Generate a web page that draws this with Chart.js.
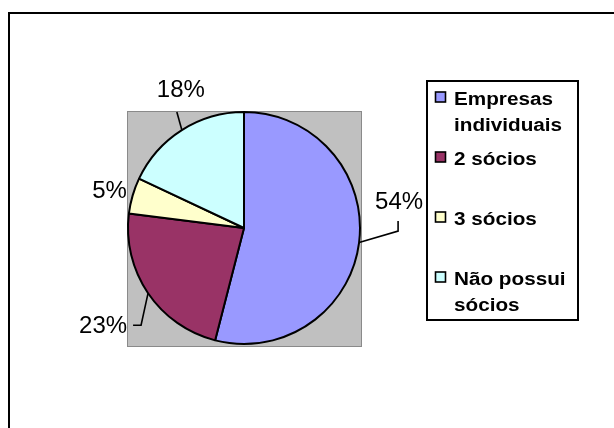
<!DOCTYPE html>
<html>
<head>
<meta charset="utf-8">
<script src="https://cdn.jsdelivr.net/npm/chart.js@4/dist/chart.umd.min.js"></script>
<style>
  html, body { margin: 0; padding: 0; background: #ffffff; }
  #frame { position: absolute; left: 8px; top: 12px; width: 800px; height: 600px;
           border-left: 2px solid #000; border-top: 2px solid #000; }
  #wrap { position: absolute; left: 0; top: 0; width: 614px; height: 428px; }
</style>
</head>
<body>
<div id="frame"></div>
<div id="wrap"><canvas id="c" width="614" height="428"></canvas></div>
<script>
// Categories (legend entries; nested arrays are wrapped lines)
const categories = [['Empresas', 'individuais'], ['2 sócios'], ['3 sócios'], ['Não possui', 'sócios']];
// Share of companies per category, in percent
const shares = [54, 23, 5, 18];
// Slice fills
const sliceColors = ['#9999FF', '#993366', '#FFFFCC', '#CCFFFF'];

const LABEL_FONT = '24px "Liberation Sans", Arial, sans-serif';
const LEGEND_FONT = 'bold 18px "Liberation Sans", Arial, sans-serif';

// Where each percentage label and its leader line sit, relative to the
// point on the rim at the middle of the slice.
const labelPlacement = [
  { text: [40, -33.5], leader: [[39, -11.5], [39, -21.5]] },
  { text: [-45, 40],   leader: [[-7, 32], [-15, 32]] },
  { text: [-23, 2.4],  leader: [] },
  { text: [-1, -33],   leader: [[-5, -18]] }
];

const plotBackground = {
  id: 'plotBackground',
  beforeDraw(chart) {
    const { ctx, chartArea: a } = chart;
    ctx.save();
    ctx.fillStyle = '#C0C0C0';
    ctx.fillRect(a.left, a.top, a.right - a.left + 1, a.bottom - a.top + 2);
    ctx.strokeStyle = '#8a8a8a';
    ctx.lineWidth = 1;
    ctx.strokeRect(a.left - 0.5, a.top - 0.5, a.right - a.left + 2, a.bottom - a.top + 3);
    ctx.restore();
  }
};

const sliceLabels = {
  id: 'sliceLabels',
  afterDatasetsDraw(chart) {
    const { ctx } = chart;
    const meta = chart.getDatasetMeta(0);
    const values = chart.data.datasets[0].data;
    ctx.save();
    meta.data.forEach((arc, i) => {
      const mid = (arc.startAngle + arc.endAngle) / 2;
      const px = arc.x + arc.outerRadius * Math.cos(mid);
      const py = arc.y + arc.outerRadius * Math.sin(mid);
      const p = labelPlacement[i];
      if (p.leader.length) {
        ctx.beginPath();
        ctx.strokeStyle = '#000';
        ctx.lineWidth = 1.6;
        ctx.moveTo(px, py);
        p.leader.forEach(([dx, dy]) => ctx.lineTo(px + dx, py + dy));
        ctx.stroke();
      }
      ctx.fillStyle = '#000';
      ctx.font = LABEL_FONT;
      ctx.textAlign = 'center';
      ctx.textBaseline = 'alphabetic';
      ctx.fillText(values[i] + '%', px + p.text[0], py + p.text[1]);
    });
    ctx.restore();
  }
};

const boxedLegend = {
  id: 'boxedLegend',
  afterDraw(chart) {
    const { ctx } = chart;
    const box = { left: 427, top: 81, right: 578, bottom: 320 };
    const firstBaseline = 105, itemStep = 60, lineStep = 26;
    ctx.save();
    ctx.fillStyle = '#fff';
    ctx.fillRect(box.left, box.top, box.right - box.left, box.bottom - box.top);
    ctx.strokeStyle = '#000';
    ctx.lineWidth = 2;
    ctx.strokeRect(box.left, box.top, box.right - box.left, box.bottom - box.top);
    chart.data.labels.forEach((lines, i) => {
      const base = firstBaseline + itemStep * i;
      ctx.fillStyle = chart.data.datasets[0].backgroundColor[i];
      ctx.fillRect(435.5, base - 13, 10, 10);
      ctx.lineWidth = 1.6;
      ctx.strokeStyle = '#000';
      ctx.strokeRect(435.5, base - 13, 10, 10);
      ctx.fillStyle = '#000';
      ctx.font = LEGEND_FONT;
      ctx.textAlign = 'left';
      ctx.textBaseline = 'alphabetic';
      lines.forEach((t, j) => {
        ctx.save();
        ctx.translate(454, base + lineStep * j);
        ctx.scale(1.15, 1);
        ctx.fillText(t, 0, 0);
        ctx.restore();
      });
    });
    ctx.restore();
  }
};

new Chart(document.getElementById('c'), {
  type: 'pie',
  data: {
    labels: categories,
    datasets: [{
      data: shares,
      backgroundColor: sliceColors,
      borderColor: '#000000',
      borderWidth: 2,
      borderAlign: 'center'
    }]
  },
  options: {
    responsive: false,
    devicePixelRatio: 1,
    animation: false,
    radius: 116,
    layout: { padding: { left: 128, right: 254, top: 112, bottom: 84 } },
    plugins: { legend: { display: false }, tooltip: { enabled: false } }
  },
  plugins: [plotBackground, sliceLabels, boxedLegend]
});
</script>
</body>
</html>
